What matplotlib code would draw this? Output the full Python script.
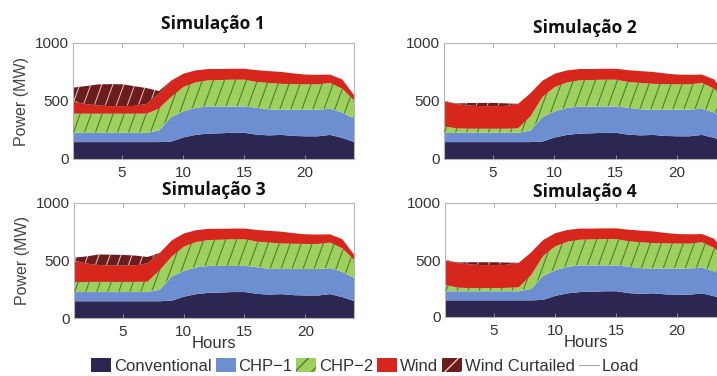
import numpy as np
import matplotlib
matplotlib.use('Agg')
import matplotlib.pyplot as plt
from matplotlib.patches import Patch
from matplotlib.lines import Line2D

# hourly data (MW)
hours = list(range(1, 25))
conventional = [150, 150, 150, 150, 150, 150, 150, 150, 155, 190, 212, 223,
                226, 230, 230, 214, 208, 212, 203, 200, 200, 212, 186, 150]
chp1 = [80, 80, 80, 80, 80, 80, 80, 100, 210, 225, 233, 234,
        231, 227, 227, 232, 224, 218, 227, 230, 230, 225, 219, 200]
load = [500, 478, 465, 460, 460, 462, 480, 570, 680, 740, 768, 780,
        780, 782, 782, 770, 762, 755, 742, 732, 730, 732, 690, 550]

chp2_sim1 = [165, 165, 165, 165, 165, 165, 165, 190, 175, 210, 220, 225,
             228, 231, 231, 222, 228, 222, 220, 218, 218, 223, 205, 155]
chp2_sim2 = [55, 38, 35, 35, 35, 35, 38, 120, 175, 210, 220, 225,
             228, 231, 231, 222, 228, 222, 220, 218, 218, 223, 205, 155]
chp2_sim3 = [85, 88, 88, 88, 88, 88, 90, 170, 175, 210, 220, 225,
             228, 231, 231, 222, 228, 222, 220, 218, 218, 223, 205, 155]
chp2_sim4 = [55, 32, 28, 28, 28, 30, 35, 120, 175, 210, 220, 225,
             228, 231, 231, 222, 228, 222, 220, 218, 218, 223, 205, 155]

curtailed_sim1 = [120, 155, 182, 190, 188, 170, 135, 20, 0, 0, 0, 0,
                  0, 0, 0, 0, 0, 0, 0, 0, 0, 0, 0, 0]
curtailed_sim2 = [0, 5, 22, 28, 28, 22, 0, 0, 0, 0, 0, 0,
                  0, 0, 0, 0, 0, 0, 0, 0, 0, 0, 0, 0]
curtailed_sim3 = [30, 62, 92, 95, 93, 85, 55, 0, 0, 0, 0, 0,
                  0, 0, 0, 0, 0, 0, 0, 0, 0, 0, 0, 0]
curtailed_sim4 = [0, 5, 20, 25, 25, 20, 0, 0, 0, 0, 0, 0,
                  0, 0, 0, 0, 0, 0, 0, 0, 0, 0, 0, 0]

titles = ['Simulação 1', 'Simulação 2', 'Simulação 3', 'Simulação 4']

C_CONV = '#2b2652'
C_CHP1 = '#6d8fd1'
C_CHP2 = '#9fd05e'
C_WIND = '#d7271d'
C_CURT = '#6b1c1c'
C_HATCH_G = '#4a8030'
C_HATCH_R = '#e9c2c2'
C_TEXT = '#333333'
C_SPINE = '#b5b5b5'

plt.rcParams['font.family'] = ['Liberation Sans', 'DejaVu Sans']

fig = plt.figure(figsize=(7.17, 3.76), dpi=100)
W, H = 717, 376


def px_axes(left, top, right, bottom):
    return fig.add_axes([left / W, 1 - bottom / H, (right - left) / W, (bottom - top) / H])


def hatch(ax, coll, color, spacing=11, angle=70, lw=0.8):
    # steep diagonal lines clipped to a filled area
    pos = ax.get_position()
    w = pos.width * W
    h = pos.height * H
    inv = 1 / (np.tan(np.radians(angle)) * w / h)
    dx = spacing / w
    path = coll.get_paths()[0]
    for x0 in np.arange(-inv - dx, 1 + dx, dx):
        ln, = ax.plot([x0, x0 + inv], [0, 1], transform=ax.transAxes,
                      color=color, lw=lw, zorder=3)
        ln.set_clip_path(path, ax.transData)


axes = [px_axes(73, 43, 354, 159), px_axes(444, 43, 726, 159),
        px_axes(74, 203, 354, 318), px_axes(445, 203, 726, 317)]
chp2_all = [chp2_sim1, chp2_sim2, chp2_sim3, chp2_sim4]
curt_all = [curtailed_sim1, curtailed_sim2, curtailed_sim3, curtailed_sim4]

x = np.array(hours)
for i, ax in enumerate(axes):
    conv = np.array(conventional)
    c1 = conv + np.array(chp1)
    c2 = c1 + np.array(chp2_all[i])
    ld = np.array(load)
    cu = ld + np.array(curt_all[i])

    ax.fill_between(x, 0, conv, color=C_CONV, lw=0)
    ax.fill_between(x, conv, c1, color=C_CHP1, lw=0)
    g = ax.fill_between(x, c1, c2, color=C_CHP2, lw=0)
    ax.fill_between(x, c2, ld, color=C_WIND, lw=0)
    r = ax.fill_between(x, ld, cu, color=C_CURT, lw=0)
    hatch(ax, g, C_HATCH_G)
    hatch(ax, r, C_HATCH_R, lw=0.7)

    ax.set_xlim(1, 24)
    ax.set_ylim(0, 1000)
    ax.set_xticks([5, 10, 15, 20])
    ax.set_yticks([0, 500, 1000])
    ax.tick_params(direction='in', top=True, right=True, length=3, width=0.6,
                   color='#999999', labelcolor=C_TEXT, labelsize=11)
    ax.tick_params(axis='x', pad=5)
    ax.tick_params(axis='y', pad=3)
    for s in ax.spines.values():
        s.set_color(C_SPINE)
        s.set_linewidth(0.8)
    if i % 2 == 0:
        ax.set_ylabel('Power (MW)', fontsize=11.5, color='#444444', labelpad=4)
    if i >= 2:
        ax.set_xlabel('Hours', fontsize=12, color=C_TEXT, labelpad=-2)

title_pos = [(213, 29), (585, 33), (214, 195), (585, 197)]
for t, (tx, ty) in zip(titles, title_pos):
    fig.text(tx / W, 1 - ty / H, t, ha='center', va='baseline',
             fontsize=12.5, fontweight='bold', family='Open Sans', color='#111111')

handles = [
    Patch(facecolor=C_CONV, lw=0),
    Patch(facecolor=C_CHP1, lw=0),
    Patch(facecolor=C_CHP2, edgecolor=C_HATCH_G, hatch='//', lw=0),
    Patch(facecolor=C_WIND, lw=0),
    Patch(facecolor=C_CURT, edgecolor=C_HATCH_R, hatch='//', lw=0),
    Line2D([], [], color='#aaaaaa', lw=0.8),
]
labels = ['Conventional', 'CHP\u22121', 'CHP\u22122', 'Wind', 'Wind Curtailed', 'Load']
fig.legend(handles, labels, loc='center', bbox_to_anchor=(365 / W, 1 - 366 / H),
           ncol=6, frameon=False, fontsize=12, handlelength=1.2, handleheight=0.9,
           handletextpad=0.15, columnspacing=0.25, labelcolor=C_TEXT)

fig.savefig('out.png', dpi=100)
